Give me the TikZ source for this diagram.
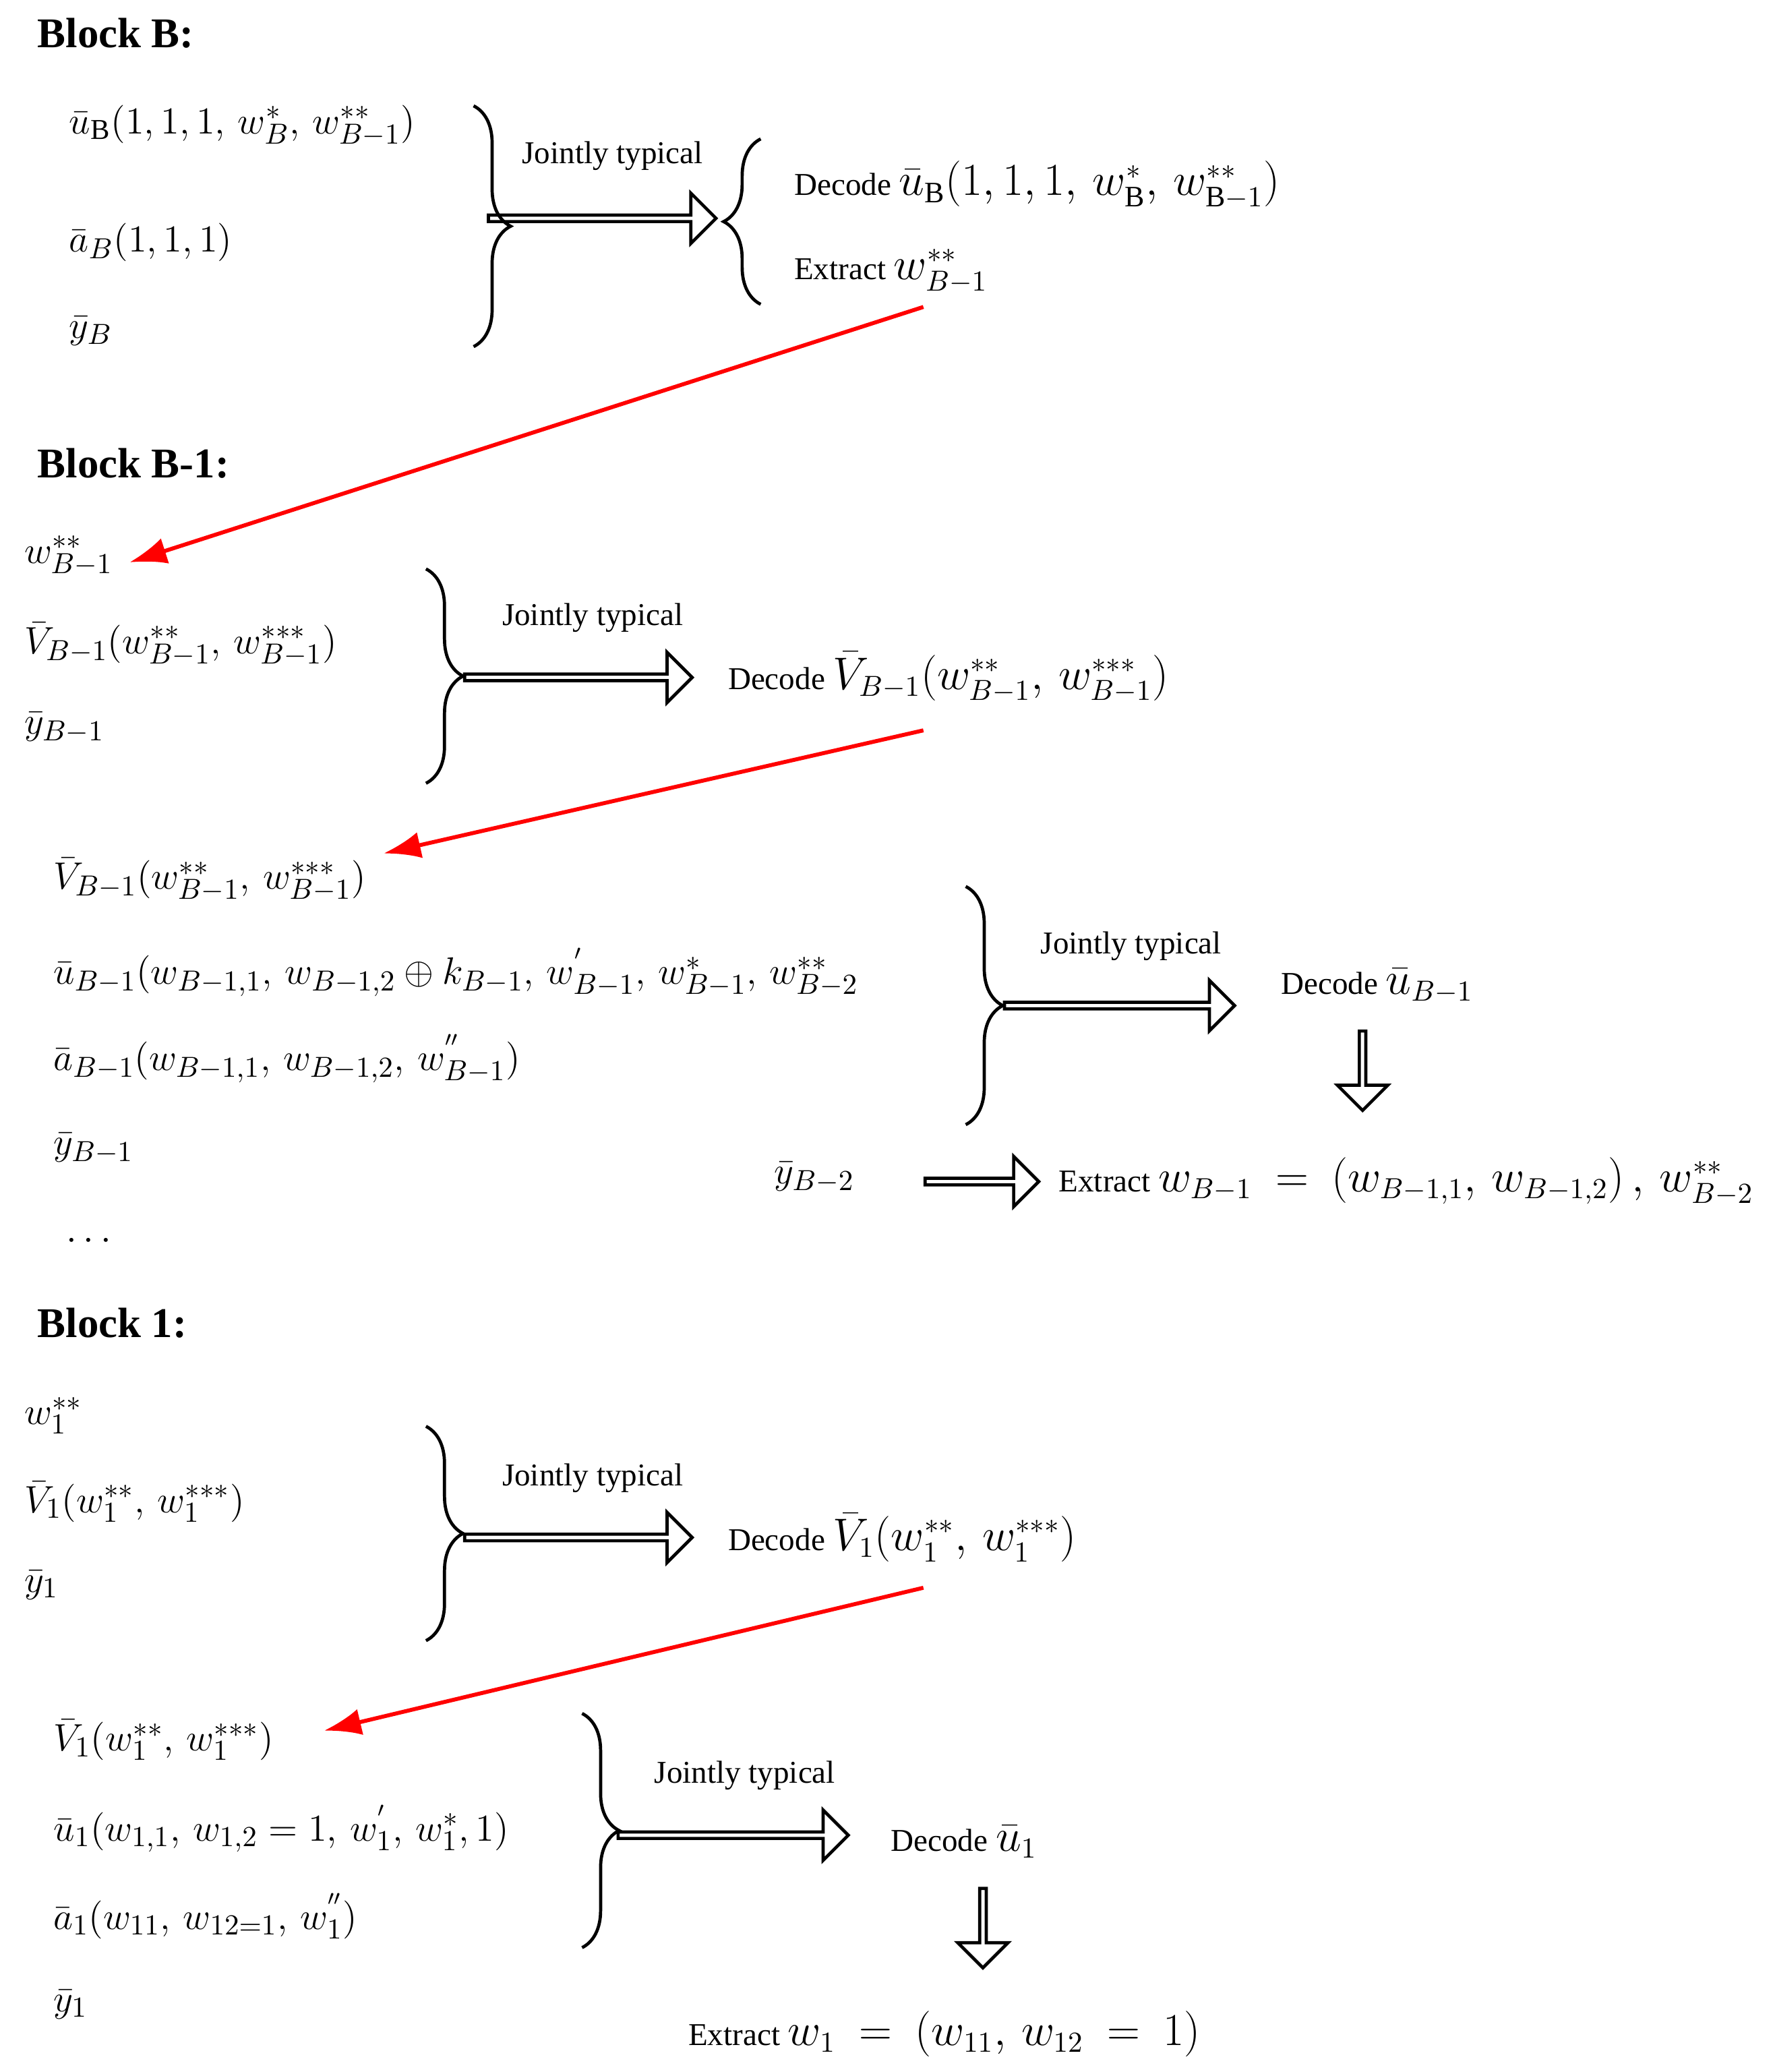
\documentclass[tikz,border=0pt]{standalone}
\usepackage{fontspec}
\setmainfont{Liberation Serif}
\usetikzlibrary{decorations.pathreplacing,shapes.arrows,arrows.meta}
\newcommand{\bm}[1]{{\fontsize{16}{19}\selectfont$#1$}}
\begin{document}
\begin{tikzpicture}[x=0.5pt,y=-0.5pt,
 m/.style={anchor=west,font=\fontsize{15.5}{19}\selectfont,inner sep=0},
 hd/.style={anchor=west,font=\fontsize{16}{19}\selectfont\bfseries,inner sep=0},
 lab/.style={font=\large,inner sep=0},
 tx/.style={anchor=west,font=\large,inner sep=0},
 br/.style={decorate,decoration={brace,amplitude=14pt},line width=1.2pt},
 red/.style={draw=red,line width=1.5pt,-{Latex[length=14pt,width=10pt]}},
 hol/.style={single arrow,draw,line width=1.2pt,minimum width=19pt,single arrow head extend=4pt,single arrow head indent=0pt,inner sep=0pt,anchor=center}]
\useasboundingbox (0,0) rectangle (1340,1566);
% Block B
\node[hd] (hB) at (28,25) {Block B:};
\node[m] (b1) at (52,95) {$\bar u_{\mathrm B}(1,1,1,\,w^{*}_{B},\,w^{**}_{B-1})$};
\node[m] (b2) at (52,183) {$\bar a_{B}(1,1,1)$};
\node[m] (b3) at (52,250) {$\bar y_{B}$};
\draw[br] (358,80) -- (358,262);
\node[hol,minimum height=86pt] (aB) at (454,165) {};
\node[lab] (jB) at (463,118) {Jointly typical};
\draw[br] (575,230) -- (575,105);
\node[tx] (dB) at (600,140) {Decode \bm{\bar u_{\mathrm B}(1,1,1,\,w^{*}_{\mathrm B},\,w^{**}_{\mathrm B-1})}};
\node[tx] (eB) at (600,205) {Extract \bm{w^{**}_{B-1}}};
\coordinate (rB1) at (698,232); \coordinate (rB2) at (98,425);
\draw[red] (rB1) -- (rB2);
% Block B-1
\node[hd] (hB1) at (28,350) {Block B-1:};
\node[m] (c1) at (18,420) {$w^{**}_{B-1}$};
\node[m] (c2) at (18,487) {$\bar V_{B-1}(w^{**}_{B-1},\,w^{***}_{B-1})$};
\node[m] (c3) at (18,550) {$\bar y_{B-1}$};
\draw[br] (322,430) -- (322,592);
\node[hol,minimum height=86pt] (aC) at (436,512) {};
\node[lab] (jC) at (448,467) {Jointly typical};
\node[tx] (dC) at (550,512) {Decode \bm{\bar V_{B-1}(w^{**}_{B-1},\,w^{***}_{B-1})}};
\coordinate (rC1) at (698,552); \coordinate (rC2) at (290,645);
\draw[red] (rC1) -- (rC2);
\node[m] (d1) at (40,665) {$\bar V_{B-1}(w^{**}_{B-1},\,w^{***}_{B-1})$};
\node[m] (d2) at (40,735) {$\bar u_{B-1}(w_{B-1,1},\,w_{B-1,2}\oplus k_{B-1},\,w^{'}_{B-1},\,w^{*}_{B-1},\,w^{**}_{B-2}$};
\node[m] (d3) at (40,800) {$\bar a_{B-1}(w_{B-1,1},\,w_{B-1,2},\,w^{''}_{B-1})$};
\node[m] (d4) at (40,868) {$\bar y_{B-1}$};
\node[m] (d5) at (50,938) {$\cdots$};
\draw[br] (730,670) -- (730,850);
\node[hol,minimum height=87pt] (aD) at (845,760) {};
\node[lab] (jD) at (855,715) {Jointly typical};
\node[tx] (dD) at (968,745) {Decode \bm{\bar u_{B-1}}};
\node[hol,minimum height=30pt,shape border rotate=270] (vD) at (1030,808) {};
\node[m] (yD) at (585,890) {$\bar y_{B-2}$};
\node[hol,minimum height=43pt] (hD) at (741,893) {};
\node[tx] (eD) at (800,893) {Extract \bm{w_{B-1}\ =\ (w_{B-1,1},\,w_{B-1,2})\,,\,w^{**}_{B-2}}};
% Block 1
\node[hd] (h1) at (28,1000) {Block 1:};
\node[m] (e1) at (18,1070) {$w^{**}_{1}$};
\node[m] (e2) at (18,1135) {$\bar V_{1}(w^{**}_{1},\,w^{***}_{1})$};
\node[m] (e3) at (18,1198) {$\bar y_{1}$};
\draw[br] (322,1078) -- (322,1240);
\node[hol,minimum height=86pt] (aE) at (436,1162) {};
\node[lab] (jE) at (448,1117) {Jointly typical};
\node[tx] (dE) at (550,1162) {Decode \bm{\bar V_{1}(w^{**}_{1},\,w^{***}_{1})}};
\coordinate (rE1) at (698,1200); \coordinate (rE2) at (245,1308);
\draw[red] (rE1) -- (rE2);
\node[m] (f1) at (40,1315) {$\bar V_{1}(w^{**}_{1},\,w^{***}_{1})$};
\node[m] (f2) at (40,1382) {$\bar u_{1}(w_{1,1},\,w_{1,2}=1,\,w^{'}_{1},\,w^{*}_{1},1)$};
\node[m] (f3) at (40,1448) {$\bar a_{1}(w_{11},\,w_{12=1},\,w^{''}_{1})$};
\node[m] (f4) at (40,1515) {$\bar y_{1}$};
\draw[br] (440,1295) -- (440,1472);
\node[hol,minimum height=87pt] (aF) at (553,1387) {};
\node[lab] (jF) at (563,1342) {Jointly typical};
\node[tx] (dF) at (673,1392) {Decode \bm{\bar u_{1}}};
\node[hol,minimum height=30pt,shape border rotate=270] (vF) at (743,1456) {};
\node[tx] (eF) at (520,1537) {Extract \bm{w_{1}\ =\ (w_{11},\,w_{12}\ =\ 1)}};
\end{tikzpicture}
\end{document}
